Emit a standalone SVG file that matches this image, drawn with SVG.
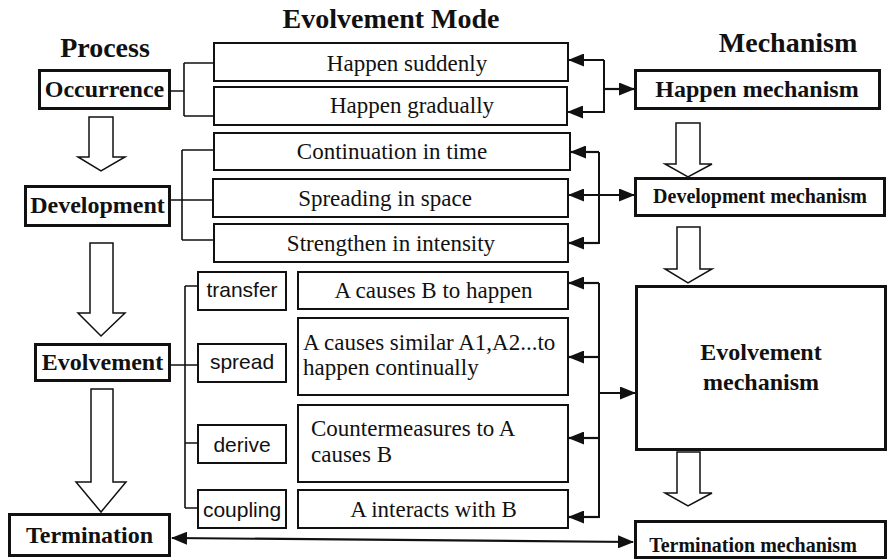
<svg xmlns="http://www.w3.org/2000/svg" width="888" height="560" viewBox="0 0 888 560">
<defs>
<marker id="ah" viewBox="0 0 16 13" refX="15" refY="6.5" markerWidth="16" markerHeight="13" orient="auto-start-reverse" markerUnits="userSpaceOnUse">
<path d="M0,0 L16,6.5 L0,13 z" fill="#111"/>
</marker>
<style>
.title{font-family:"Liberation Serif","Times New Roman",serif;font-weight:bold;font-size:28px;fill:#111;text-anchor:middle}
.pbox{fill:#fff;stroke:#111;stroke-width:3}
.ptxt{font-family:"Liberation Serif","Times New Roman",serif;font-weight:bold;font-size:24px;fill:#111;text-anchor:middle}
.mtxt{font-family:"Liberation Serif","Times New Roman",serif;font-weight:bold;font-size:20px;fill:#111;text-anchor:middle}
.box{fill:#fff;stroke:#111;stroke-width:2}
.txt{font-family:"Liberation Serif","Times New Roman",serif;font-size:23px;fill:#111}
.c{text-anchor:middle}
.stxt{font-family:"Liberation Sans",Arial,sans-serif;font-size:21px;fill:#111;text-anchor:middle}
.big{fill:#fff;stroke:#111;stroke-width:1.5}
.line{fill:none;stroke:#111;stroke-width:2}
.br{fill:none;stroke:#111;stroke-width:1.6}
.arr{fill:none;stroke:#111;stroke-width:2.2;marker-end:url(#ah)}
.arr2{fill:none;stroke:#111;stroke-width:2.2;marker-end:url(#ah);marker-start:url(#ah)}
</style>
</defs>
<rect width="888" height="560" fill="#fff"/>

<g id="titles">
<text class="title" x="105" y="57">Process</text>
<text class="title" x="391" y="28">Evolvement Mode</text>
<text class="title" x="788" y="52">Mechanism</text>
</g>

<g id="connectors">
<path class="br" d="M171,91 H184 M184,63 V116 M184,63 H213 M184,116 H213"/>
<path class="br" d="M171,200 H212 M182,150 V240 M182,150 H213 M182,240 H213"/>
<path class="br" d="M171,365 H197 M185,286 V508 M185,286 H197 M185,443 H197 M185,508 H197"/>
<path class="line" d="M604,60 V113"/>
<path class="arr" d="M604,60 H569"/>
<path class="arr" d="M604,112 H568"/>
<path class="arr" d="M604,89 H634"/>
<path class="line" d="M599,152 V244"/>
<path class="arr" d="M599,152 H571"/>
<path class="arr" d="M599,243 H569"/>
<path class="arr2" d="M569,195 H634"/>
<path class="line" d="M599,283 V518"/>
<path class="arr" d="M599,283 H569"/>
<path class="arr" d="M599,357 H569"/>
<path class="arr" d="M599,438 H569"/>
<path class="arr" d="M599,517 H569"/>
<path class="arr" d="M599,393 H635"/>
<path class="arr2" d="M172,538 L633,542"/>
<polygon class="big" points="89,117 113,117 113,157 125,157 101,171 78,157 89,157"/>
<polygon class="big" points="90,243 113,243 113,313 125,313 101,336 78,313 90,313"/>
<polygon class="big" points="91,389 113,389 113,482 126,482 101,512 76,482 91,482"/>
<polygon class="big" points="676,123 700,123 700,164 712,164 688,177 665,164 676,164"/>
<polygon class="big" points="677,227 700,227 700,269 712,269 688,283 665,269 677,269"/>
<polygon class="big" points="677,452 700,452 700,493 712,493 688,506 665,493 677,493"/>
</g>

<g id="occurrence">
<rect class="pbox" x="39.5" y="70.5" width="130" height="38"/>
<text class="ptxt" x="104.5" y="97">Occurrence</text>
</g>
<g id="development">
<rect class="pbox" x="25.5" y="186.5" width="144" height="39"/>
<text class="ptxt" x="97.5" y="213">Development</text>
</g>
<g id="evolvement">
<rect class="pbox" x="35.5" y="344.5" width="134" height="36"/>
<text class="ptxt" x="102.5" y="370">Evolvement</text>
</g>
<g id="termination">
<rect class="pbox" x="9.5" y="514.5" width="160" height="41"/>
<text class="ptxt" x="89.5" y="543">Termination</text>
</g>

<g id="happen-suddenly">
<rect class="box" x="214" y="43" width="354" height="38"/>
<text class="txt c" x="407" y="71">Happen suddenly</text>
</g>
<g id="happen-gradually">
<rect class="box" x="214" y="87" width="353" height="38"/>
<text class="txt c" x="412" y="113">Happen gradually</text>
</g>
<g id="continuation">
<rect class="box" x="214" y="133" width="356" height="37"/>
<text class="txt c" x="392" y="159">Continuation in time</text>
</g>
<g id="spreading">
<rect class="box" x="213" y="179" width="355" height="38"/>
<text class="txt c" x="385" y="206">Spreading in space</text>
</g>
<g id="strengthen">
<rect class="box" x="214" y="224" width="354" height="38"/>
<text class="txt c" x="391" y="251">Strengthen in intensity</text>
</g>

<g id="transfer">
<rect class="box" x="198" y="272" width="88" height="38"/>
<text class="stxt" x="242" y="297">transfer</text>
</g>
<g id="spread">
<rect class="box" x="198" y="344" width="88" height="38"/>
<text class="stxt" x="242" y="369">spread</text>
</g>
<g id="derive">
<rect class="box" x="198" y="425" width="88" height="38"/>
<text class="stxt" x="242" y="452">derive</text>
</g>
<g id="coupling">
<rect class="box" x="198" y="490" width="88" height="38"/>
<text class="stxt" x="242" y="517">coupling</text>
</g>

<g id="a-causes-b">
<rect class="box" x="298" y="272" width="270" height="37"/>
<text class="txt c" x="433.5" y="298">A causes B to happen</text>
</g>
<g id="a-causes-similar">
<rect class="box" x="298" y="318" width="270" height="77"/>
<text class="txt" x="303" y="350">A causes similar A1,A2...to</text>
<text class="txt" x="303" y="375">happen continually</text>
</g>
<g id="countermeasures">
<rect class="box" x="298" y="405" width="270" height="77"/>
<text class="txt" x="311" y="436">Countermeasures to A</text>
<text class="txt" x="311" y="462">causes B</text>
</g>
<g id="a-interacts">
<rect class="box" x="298" y="490" width="270" height="38"/>
<text class="txt c" x="433.5" y="517">A interacts with B</text>
</g>

<g id="happen-mechanism">
<rect class="pbox" x="635.5" y="70.5" width="244" height="38"/>
<text class="ptxt" x="757" y="97">Happen mechanism</text>
</g>
<g id="development-mechanism">
<rect class="pbox" x="635.5" y="178.5" width="249" height="37"/>
<text class="mtxt" x="760" y="203">Development mechanism</text>
</g>
<g id="evolvement-mechanism">
<rect class="pbox" x="636.5" y="286.5" width="249" height="163"/>
<text class="ptxt" x="761" y="360">Evolvement</text>
<text class="ptxt" x="761" y="390">mechanism</text>
</g>
<g id="termination-mechanism">
<rect class="pbox" x="635.5" y="521.5" width="250" height="36"/>
<text class="mtxt" x="753" y="552">Termination mechanism</text>
</g>
</svg>
